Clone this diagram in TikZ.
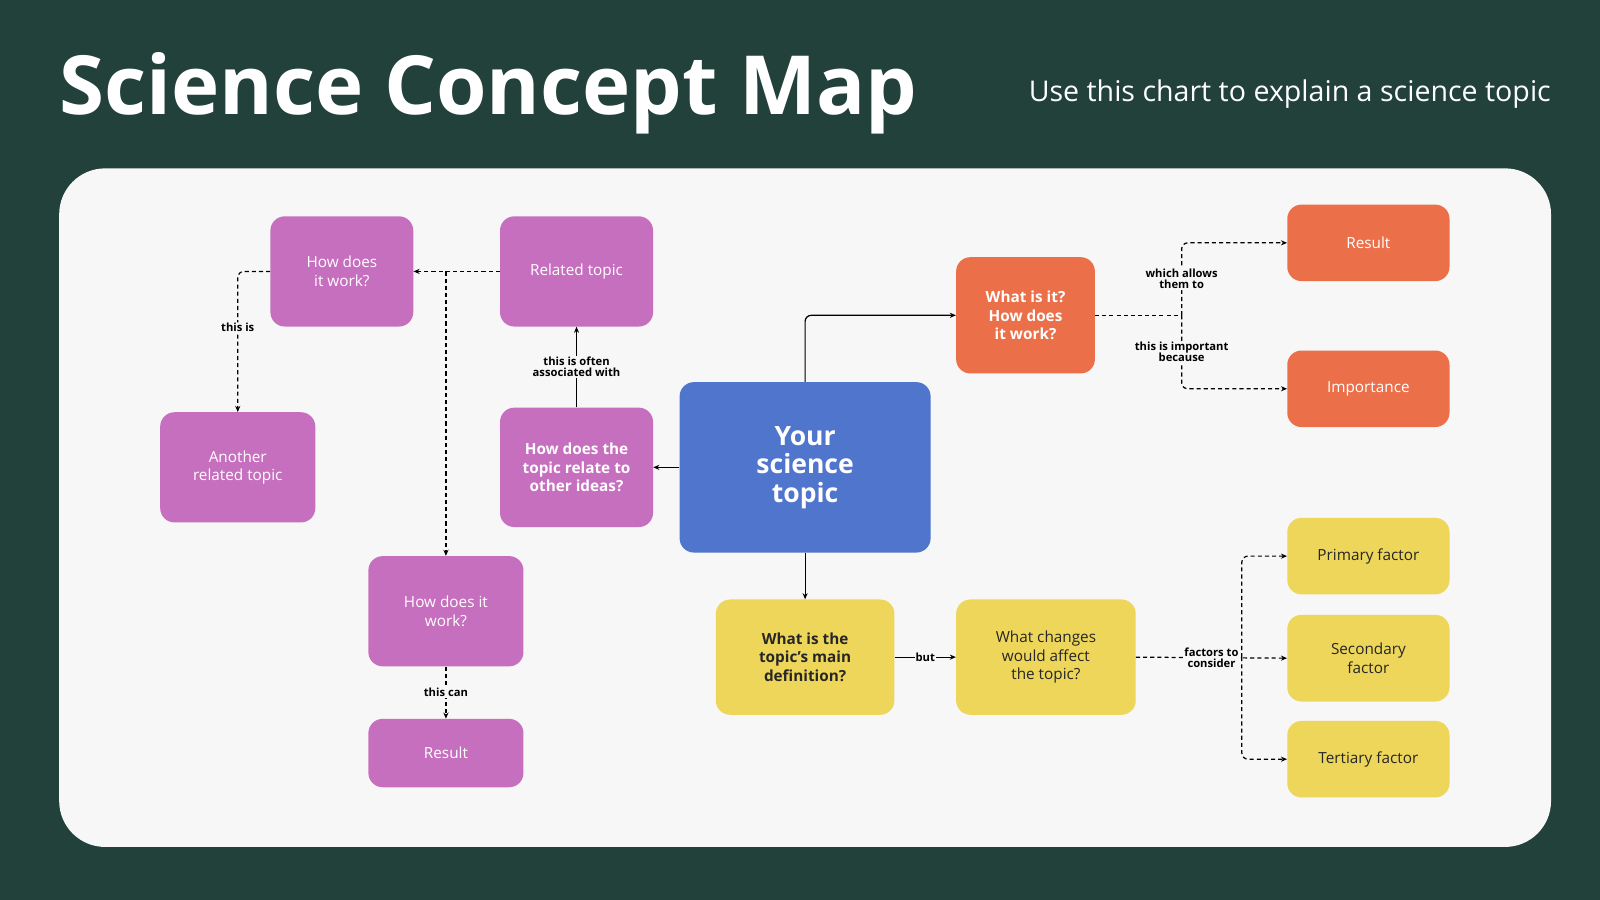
\documentclass[tikz,border=0pt]{standalone}
\usepackage{fontspec}
\setmainfont{Open Sans}
\usetikzlibrary{arrows.meta}
\definecolor{bgdark}{HTML}{21413A}
\definecolor{panel}{HTML}{F7F7F7}
\definecolor{purp}{HTML}{C76FBF}
\definecolor{blu}{HTML}{5075CC}
\definecolor{orng}{HTML}{EB704A}
\definecolor{yell}{HTML}{EDD65A}
\tikzset{
box/.style={rounded corners=14pt,align=center,inner sep=0pt,font=\fontsize{15}{18}\selectfont},
pbox/.style={box,fill=purp,text=white},
obox/.style={box,fill=orng,text=white},
ybox/.style={box,fill=yell,text=black!85},
link/.style={draw=black,line width=1.2pt,-{Stealth[length=6pt,width=5pt]}},
dlink/.style={link,dash pattern=on 4pt off 3pt},
lbl/.style={fill=panel,inner sep=1pt,align=center,font=\bfseries\fontsize{11}{11}\selectfont}
}
\begin{document}
\begin{tikzpicture}[x=1pt,y=-1pt]
\fill[bgdark] (0,0) rectangle (1568,882);
\useasboundingbox (0,0) rectangle (1568,882);
\fill[panel,rounded corners=45pt] (58,165) rectangle (1520,830);
\node[anchor=base west,text=white,inner sep=0pt,font=\bfseries\fontsize{80}{80}\selectfont] (title) at (58,112) {Science Concept Map};
\node[anchor=base east,text=white,inner sep=0pt,font=\fontsize{28}{28}\selectfont] (sub) at (1520,99) {Use this chart to explain a science topic};

% purple side
\node[pbox,minimum width=140pt,minimum height=108pt] (how1) at (335,266) {How does\\it work?};
\node[pbox,minimum width=150pt,minimum height=108pt] (rel) at (565,266) {Related topic};
\node[pbox,minimum width=152pt,minimum height=108pt] (another) at (233,458) {Another\\related topic};
\node[pbox,minimum width=150pt,minimum height=117pt,font=\bfseries\fontsize{15}{18}\selectfont] (relq) at (565,458) {How does the\\topic relate to\\other ideas?};
\node[pbox,minimum width=152pt,minimum height=108pt] (how2) at (437,599) {How does it\\work?};
\node[pbox,minimum width=152pt,minimum height=67pt] (res1) at (437,738) {Result};

% centre
\node[box,fill=blu,text=white,minimum width=246pt,minimum height=167pt,font=\bfseries\fontsize{26}{28}\selectfont] (topic) at (789,458) {Your\\science\\topic};

% orange side
\node[obox,minimum width=136pt,minimum height=114pt,font=\bfseries\fontsize{15}{18}\selectfont] (what) at (1005,309) {What is it?\\How does\\it work?};
\node[obox,minimum width=159pt,minimum height=75pt] (res2) at (1341,238) {Result};
\node[obox,minimum width=159pt,minimum height=75pt] (imp) at (1341,381) {Importance};

% yellow side
\node[ybox,minimum width=175pt,minimum height=113pt,font=\bfseries\fontsize{15}{18}\selectfont] (def) at (789,644) {What is the\\topic’s main\\definition?};
\node[ybox,minimum width=176pt,minimum height=113pt] (chg) at (1025,644) {What changes\\would affect\\the topic?};
\node[ybox,minimum width=159pt,minimum height=75pt] (prim) at (1341,545) {Primary factor};
\node[ybox,minimum width=159pt,minimum height=85pt] (sec) at (1341,645) {Secondary\\factor};
\node[ybox,minimum width=159pt,minimum height=75pt] (tert) at (1341,744) {Tertiary factor};

\coordinate (split1) at (1158,309);
\coordinate (split2) at (1217,644);

% connectors
\draw[link,rounded corners=6pt] (topic.north) |- (what.west);
\draw[link] (topic.west) -- (relq.east);
\draw[link] (relq.north) -- node[lbl] {this is often\\associated with} (rel.south);
\draw[dlink] (rel.west) -- (how1.east);
\draw[dlink] (437,266) -- (how2.north);
\draw[dlink,rounded corners=6pt] (how1.west) -| node[lbl,pos=0.7] {this is} (another.north);
\draw[dlink] (how2.south) -- node[lbl] {this can} (res1.north);
\draw[link] (topic.south) -- (def.north);
\draw[link] (def.east) -- node[lbl] {but} (chg.west);

\draw[dlink,-] (what.east) -- (split1);
\draw[dlink,rounded corners=6pt] (split1) |- node[lbl,pos=0.25] {which allows\\them to} (res2.west);
\draw[dlink,rounded corners=6pt] (split1) |- node[lbl,pos=0.25] {this is important\\because} (imp.west);

\draw[dlink] (chg.east) -- node[lbl,pos=0.5] {factors to\\consider} (sec.west);
\draw[dlink,rounded corners=6pt] (split2) |- (prim.west);
\draw[dlink,rounded corners=6pt] (split2) |- (tert.west);
\end{tikzpicture}
\end{document}
